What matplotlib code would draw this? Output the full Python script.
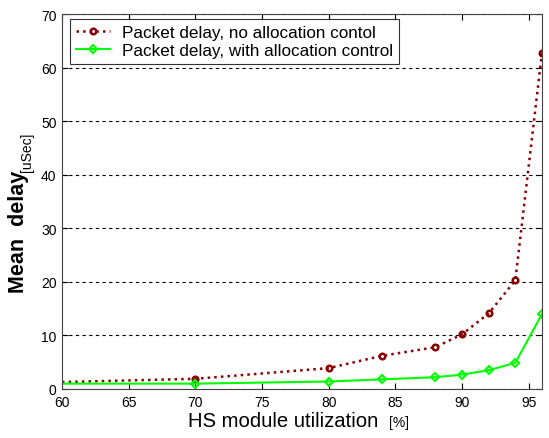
import numpy as np
import matplotlib.pyplot as plt

plt.rcParams['font.family'] = ['Liberation Sans', 'DejaVu Sans']

# utilization [%]
util = [60, 70, 80, 84, 88, 90, 92, 94, 96]
# mean delay [uSec]
delay_no_ctrl = [1.3, 1.9, 3.9, 6.2, 7.8, 10.2, 14.1, 20.3, 62.8]
delay_ctrl = [1.0, 1.0, 1.4, 1.8, 2.2, 2.7, 3.5, 4.9, 14.0]

label_no_ctrl = 'Packet delay, no allocation contol'
label_ctrl = 'Packet delay, with allocation control'

fig = plt.figure(figsize=(5.49, 4.39), dpi=100)
W, H = 549, 439
ax = fig.add_axes([62 / W, 1 - 390 / H, (542 - 62) / W, (390 - 15) / H])

ax.plot(util, delay_no_ctrl, color='#8b0000', linestyle=':', linewidth=1.8,
        marker='o', markersize=4, markerfacecolor='none', markeredgewidth=1.8,
        markevery=list(range(1, len(util))), label=label_no_ctrl)
ax.plot(util, delay_ctrl, color='#00ff00', linestyle='-', linewidth=1.5,
        marker='D', markersize=4.5, markerfacecolor='none', markeredgewidth=1.5,
        markevery=list(range(1, len(util))), label=label_ctrl)

ax.set_xlim(60, 96)
ax.set_ylim(0, 70)
ax.set_xticks(np.arange(60, 96, 5))
ax.set_yticks(np.arange(0, 71, 10))
ax.yaxis.grid(True, linestyle=(0, (3, 3)), color='black', linewidth=0.8)
ax.tick_params(direction='in', top=True, right=True, labelsize=10, length=4, pad=4)
for s in ax.spines.values():
    s.set_color('#444444')

leg = ax.legend(loc='upper left', bbox_to_anchor=(8 / 480, 1 - 5 / 375),
                fontsize=12.3, frameon=True, fancybox=False, borderpad=0.35,
                handlelength=2.0, handletextpad=0.7, labelspacing=0.2,
                borderaxespad=0)
leg.get_frame().set_edgecolor('black')
leg.get_frame().set_linewidth(0.8)

fig.text(188 / W, 1 - 427 / H, 'HS module utilization', fontsize=14.6,
         ha='left', va='baseline')
fig.text(389 / W, 1 - 427 / H, '[%]', fontsize=10, ha='left', va='baseline')
fig.text(29 / W, 1 - 293 / H, 'Mean  delay', fontsize=15.5, fontweight='bold',
         rotation=90, ha='right', va='bottom')
fig.text(34 / W, 1 - 172 / H, '[uSec]', fontsize=10, rotation=90,
         ha='right', va='bottom')

fig.savefig('out.png', dpi=100)
